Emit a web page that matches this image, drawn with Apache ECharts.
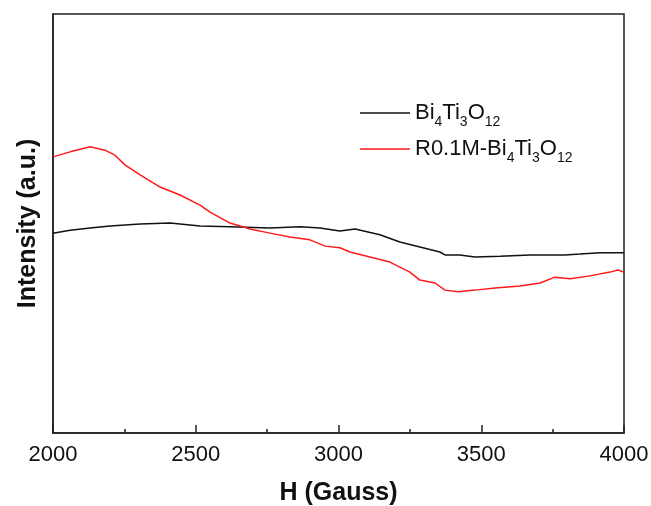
<!DOCTYPE html>
<html>
<head>
<meta charset="utf-8">
<script src="https://cdn.jsdelivr.net/npm/echarts@6/dist/echarts.min.js"></script>
<style>
  html, body { margin: 0; padding: 0; background: #fff; }
  #chart { width: 651px; height: 506px; }
</style>
</head>
<body>
<div id="chart"></div>
<script>
  // 磁场 H (Gauss) 与强度读数
  const hBlack = [2000, 2060, 2130, 2200, 2305, 2410, 2515, 2620, 2760, 2865, 2935, 3005, 3058, 3145, 3215, 3285, 3355, 3373, 3425, 3478, 3566, 3671, 3793, 3846, 3916, 4000];
  const intBlack = [47.7, 48.4, 48.9, 49.4, 49.9, 50.1, 49.4, 49.2, 48.9, 49.2, 48.9, 48.2, 48.7, 47.3, 45.6, 44.4, 43.2, 42.5, 42.5, 42.0, 42.2, 42.5, 42.5, 42.7, 43.0, 43.0];

  const hRed = [2000, 2060, 2130, 2182, 2217, 2252, 2305, 2375, 2445, 2515, 2550, 2620, 2690, 2760, 2830, 2900, 2953, 3005, 3040, 3110, 3180, 3250, 3285, 3338, 3373, 3419, 3478, 3548, 3636, 3706, 3758, 3811, 3881, 3951, 3979, 4000];
  const intRed = [65.9, 67.1, 68.3, 67.5, 66.3, 64.0, 61.6, 58.7, 56.8, 54.4, 52.7, 50.1, 48.7, 47.7, 46.8, 46.1, 44.6, 44.2, 43.2, 42.0, 40.8, 38.4, 36.5, 35.8, 34.1, 33.7, 34.1, 34.6, 35.1, 35.8, 37.2, 36.8, 37.5, 38.4, 38.9, 38.4];

  const seriesNames = ['Bi4Ti3O12', 'R0.1M-Bi4Ti3O12'];
  const xTicks = [2000, 2500, 3000, 3500, 4000];

  const font = 'Liberation Sans, Arial, sans-serif';

  function zip(xs, ys) {
    return xs.map((x, i) => [x, ys[i]]);
  }

  const myChart = echarts.init(document.getElementById('chart'));

  const option = {
    animation: false,
    grid: {
      left: 53,
      right: 27,
      top: 14,
      bottom: 73,
      outerBoundsMode: 'none',
      show: true,
      borderColor: '#222',
      borderWidth: 1.5,
    },
    legend: {
      left: 360,
      top: 97,
      padding: 0,
      orient: 'vertical',
      icon: 'rect',
      itemWidth: 50,
      itemHeight: 1.5,
      itemGap: 4,
      data: seriesNames,
      formatter(name) {
        if (name === 'Bi4Ti3O12') {
          return '{n|Bi}{s|4}{n|Ti}{s|3}{n|O}{s|12}';
        }
        return '{n|R0.1M-Bi}{s|4}{n|Ti}{s|3}{n|O}{s|12}';
      },
      textStyle: {
        fontFamily: font,
        rich: {
          n: { fontSize: 22, color: '#111', fontFamily: font, lineHeight: 28, verticalAlign: 'middle' },
          s: { fontSize: 14, color: '#111', fontFamily: font, lineHeight: 28, padding: [18, 0, 0, 0] },
        },
      },
    },
    xAxis: {
      type: 'value',
      min: 2000,
      max: 4000,
      interval: 500,
      name: 'H (Gauss)',
      nameLocation: 'middle',
      nameGap: 48,
      nameTextStyle: { fontFamily: font, fontSize: 25, fontWeight: 'bold', color: '#111' },
      axisLine: { show: true, lineStyle: { color: '#222', width: 1.5 } },
      axisTick: { show: true, inside: true, length: 8, lineStyle: { color: '#222', width: 1.5 } },
      minorTick: { show: true, splitNumber: 2, length: 4, lineStyle: { color: '#222', width: 1.5 } },
      axisLabel: {
        fontFamily: font,
        fontSize: 22,
        color: '#111',
        margin: 11,
        formatter(v) {
          return xTicks.includes(v) ? String(v) : '';
        },
      },
      splitLine: { show: false },
    },
    yAxis: {
      type: 'value',
      min: 0,
      max: 100,
      name: 'Intensity (a.u.)',
      nameLocation: 'middle',
      nameGap: 12,
      nameTextStyle: { fontFamily: font, fontSize: 25, fontWeight: 'bold', color: '#111' },
      axisLine: { show: true, lineStyle: { color: '#222', width: 1.5 } },
      axisTick: { show: false },
      axisLabel: { show: false },
      splitLine: { show: false },
    },
    series: [
      {
        name: seriesNames[0],
        type: 'line',
        data: zip(hBlack, intBlack),
        symbol: 'none',
        lineStyle: { color: '#111', width: 1.5 },
        itemStyle: { color: '#111' },
      },
      {
        name: seriesNames[1],
        type: 'line',
        data: zip(hRed, intRed),
        symbol: 'none',
        lineStyle: { color: '#ff1a1a', width: 1.5 },
        itemStyle: { color: '#ff1a1a' },
      },
    ],
  };

  myChart.setOption(option);
</script>
</body>
</html>
